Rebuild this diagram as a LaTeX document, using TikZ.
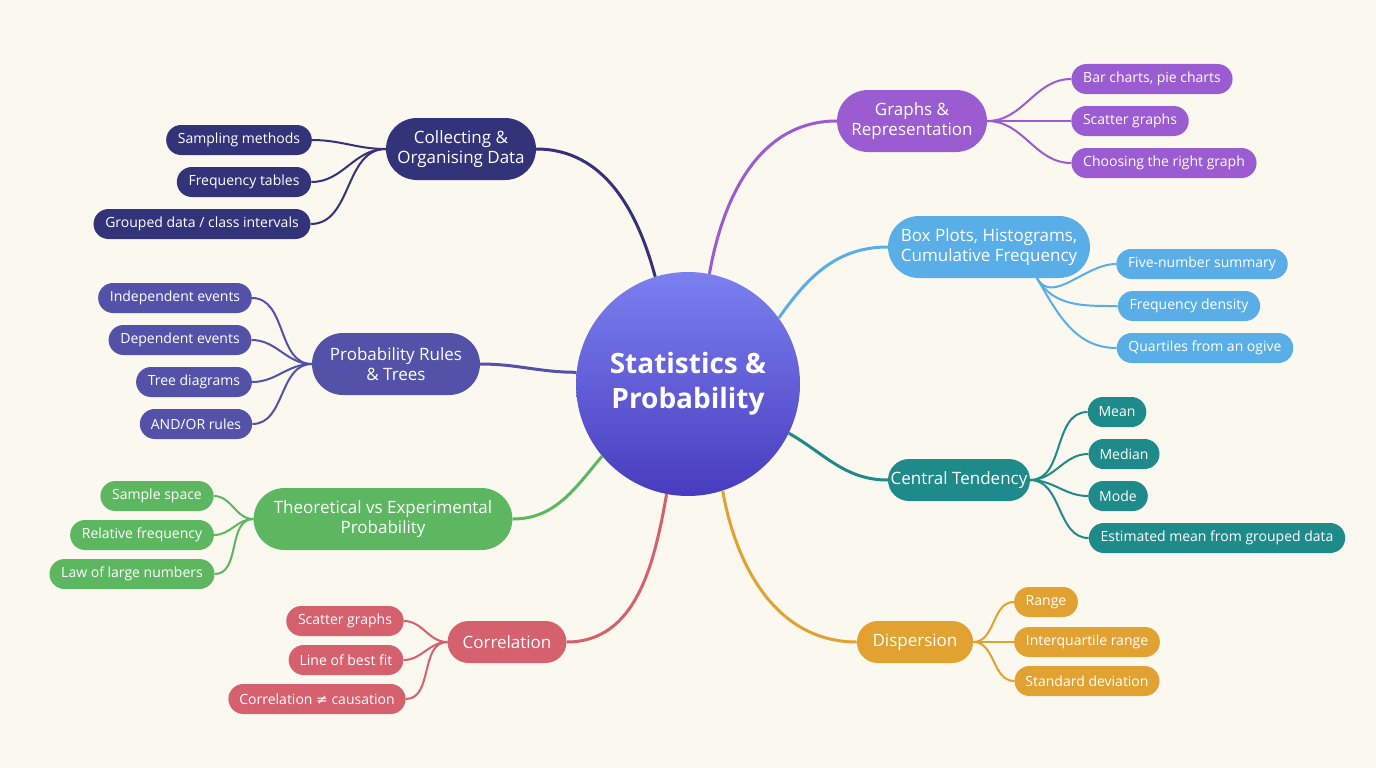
\documentclass[tikz,border=0pt]{standalone}
\usepackage{fontspec}
\setmainfont{Open Sans}
\newfontfamily\symf{DejaVu Sans}
\usetikzlibrary{shapes.misc,calc}
\definecolor{bg}{HTML}{FBF8F0}
\definecolor{cnavy}{HTML}{33337A}
\definecolor{cpurp}{HTML}{9A5CD0}
\definecolor{cblue}{HTML}{5AAEE8}
\definecolor{cind}{HTML}{5352A8}
\definecolor{cteal}{HTML}{1F8A8A}
\definecolor{cgreen}{HTML}{5DB760}
\definecolor{crose}{HTML}{D5606E}
\definecolor{camb}{HTML}{E1A232}
\begin{document}
\begin{tikzpicture}[x=1pt,y=-1pt,
  main/.style={rounded rectangle,fill=#1,text=white,align=center,font=\fontsize{17}{20}\selectfont,inner xsep=14pt,minimum height=62pt},
  mains/.style={main=#1,minimum height=42pt},
  child/.style={rounded rectangle,fill=#1,text=white,font=\fontsize{14}{16}\selectfont,inner xsep=10pt,minimum height=30pt},
  lk/.style={draw=#1,line width=3pt},
  cl/.style={draw=#1,line width=2pt}]
\fill[bg] (0,0) rectangle (1376,768);
\useasboundingbox (0,0) rectangle (1376,768);
% center
\shade[top color={rgb,255:red,124;green,128;blue,240},bottom color={rgb,255:red,72;green,60;blue,190}] (688,384) circle (112);
\node[circle,minimum size=224pt,text=white,align=center,font=\bfseries\fontsize{28}{35}\selectfont] (ctr) at (688,384) {Statistics \&\\Probability};
% main nodes
\node[main=cnavy,minimum width=178pt] (col) at (461,149) {Collecting \&\\Organising Data};
\node[main=cpurp,minimum width=178pt] (gra) at (912,121) {Graphs \&\\Representation};
\node[main=cblue,minimum width=230pt] (box) at (989,247) {Box Plots, Histograms,\\Cumulative Frequency};
\node[main=cind,minimum width=196pt] (pro) at (396,364) {Probability Rules\\\& Trees};
\node[mains=cteal,minimum width=170pt] (cen) at (959,480) {Central Tendency};
\node[main=cgreen,minimum width=250pt] (the) at (383,519) {Theoretical vs Experimental\\Probability};
\node[mains=crose,minimum width=118pt] (cor) at (507,642) {Correlation};
\node[mains=camb,minimum width=112pt] (dis) at (915,642) {Dispersion};
% center links
\draw[lk=cnavy] (ctr.107) to[out=105,in=0] (col.east);
\draw[lk=cpurp] (ctr.79) to[out=80,in=180] (gra.west);
\draw[lk=cblue] (ctr.36) to[out=55,in=180] (box.west);
\draw[lk=cind] (ctr.174) to[out=180,in=0] (pro.east);
\draw[lk=cteal] (ctr.-26) to[out=-30,in=180] (cen.west);
\draw[lk=cgreen] (ctr.-140) to[out=-130,in=0] (the.east);
\draw[lk=crose] (ctr.-101) to[out=-100,in=0] (cor.east);
\draw[lk=camb] (ctr.-72) to[out=-80,in=180] (dis.west);
% children
\node[child=cnavy] (c1) at (239,140) {Sampling methods};
\node[child=cnavy] (c2) at (244,182) {Frequency tables};
\node[child=cnavy] (c3) at (202,224) {Grouped data / class intervals};
\foreach \c in {c1,c2,c3} \draw[cl=cnavy] (col.west) to[out=180,in=0] (\c.east);
\node[child=cpurp] (g1) at (1152,79) {Bar charts, pie charts};
\node[child=cpurp] (g2) at (1130,121) {Scatter graphs};
\node[child=cpurp] (g3) at (1164,163) {Choosing the right graph};
\foreach \c in {g1,g2,g3} \draw[cl=cpurp] (gra.east) to[out=0,in=180] (\c.west);
\node[child=cblue] (b1) at (1202,264) {Five-number summary};
\node[child=cblue] (b2) at (1189,306) {Frequency density};
\node[child=cblue] (b3) at (1205,348) {Quartiles from an ogive};
\coordinate (bs) at ([xshift=-22pt]box.south east);
\foreach \c in {b1,b2,b3} \draw[cl=cblue] (bs) to[out=-60,in=180] (\c.west);
\node[child=cind] (p1) at (175,298) {Independent events};
\node[child=cind] (p2) at (180,340) {Dependent events};
\node[child=cind] (p3) at (194,382) {Tree diagrams};
\node[child=cind] (p4) at (196,424) {AND/OR rules};
\foreach \c in {p1,p2,p3,p4} \draw[cl=cind] (pro.west) to[out=180,in=0] (\c.east);
\node[child=cteal] (t1) at (1117,412) {Mean};
\node[child=cteal] (t2) at (1124,454) {Median};
\node[child=cteal] (t3) at (1118,496) {Mode};
\node[child=cteal] (t4) at (1217,538) {Estimated mean from grouped data};
\foreach \c in {t1,t2,t3,t4} \draw[cl=cteal] (cen.east) to[out=0,in=180] (\c.west);
\node[child=cgreen] (e1) at (157,496) {Sample space};
\node[child=cgreen] (e2) at (142,535) {Relative frequency};
\node[child=cgreen] (e3) at (132,574) {Law of large numbers};
\foreach \c in {e1,e2,e3} \draw[cl=cgreen] (the.west) to[out=180,in=0] (\c.east);
\node[child=crose] (r1) at (345,621) {Scatter graphs};
\node[child=crose] (r2) at (346,660) {Line of best fit};
\node[child=crose] (r3) at (317,699) {Correlation {\symf ≠} causation};
\foreach \c in {r1,r2,r3} \draw[cl=crose] (cor.west) to[out=180,in=0] (\c.east);
\node[child=camb] (d1) at (1046,602) {Range};
\node[child=camb] (d2) at (1087,642) {Interquartile range};
\node[child=camb] (d3) at (1087,681) {Standard deviation};
\foreach \c in {d1,d2,d3} \draw[cl=camb] (dis.east) to[out=0,in=180] (\c.west);
\end{tikzpicture}
\end{document}
